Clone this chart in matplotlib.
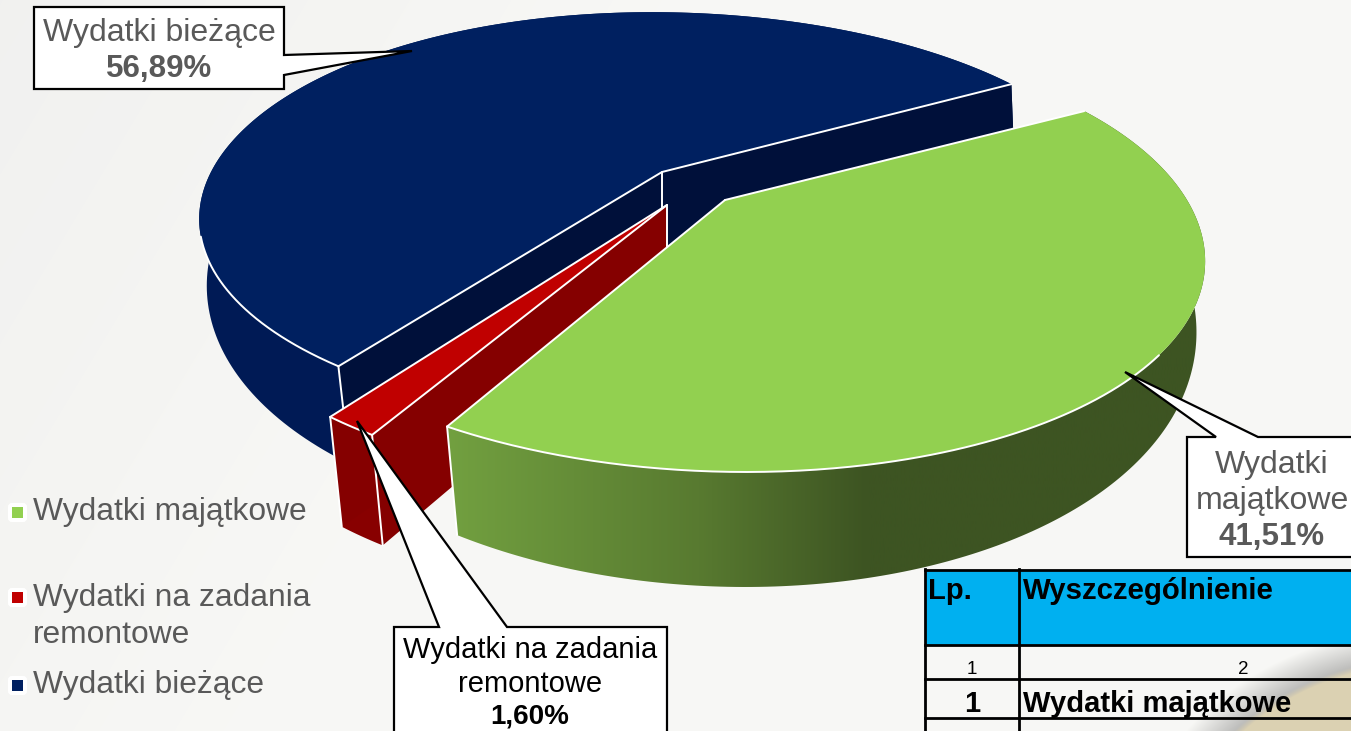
import numpy as np
import matplotlib
matplotlib.use('Agg')
import matplotlib.pyplot as plt
from matplotlib.colors import LinearSegmentedColormap
from matplotlib.patches import Polygon, Rectangle, FancyBboxPatch

plt.rcParams['font.family'] = ['Liberation Sans', 'DejaVu Sans']

# dane wykresu
kategorie = ['Wydatki majątkowe', 'Wydatki na zadania remontowe', 'Wydatki bieżące']
udzialy = [41.51, 1.60, 56.89]
etykiety_legendy = ['Wydatki majątkowe', 'Wydatki na zadania', 'remontowe', 'Wydatki bieżące']
etykiety_udzialow = ['41,51%', '1,60%', '56,89%']
naglowki_tabeli = ['Lp.', 'Wyszczególnienie']
numery_kolumn = ['1', '2']
wiersz_tabeli = ['1', 'Wydatki majątkowe']

# kolory: wierzch, sciana zewnetrzna, sciana wewnetrzna
kolor_gora = ['#92d050', '#c00000', '#002060']
kolor_bok = ['#3d5422', '#880000', '#001a55']
kolor_wew = ['#3d5422', '#850000', '#00103a']

# przesuniecie wycinkow i skala (rzut perspektywiczny)
srodki = [(725, 200), (667, 205), (662, 172)]
skala_x = [462, 447, 451]
skala_y = [201, 204, 195]
persp = [0.261, 0.261, 0.22]
skos = [21, -14, -10]
gleb0 = [65, 100, 65]
gleb1 = [50, 12, 40]
gleb_srodek = [65, 100, 85]
KAT_START = 30.0


def rzut(kat, r, s, dol=False):
    c = np.cos(np.radians(kat)) * r
    y = -np.sin(np.radians(kat)) * r
    cx, cy = srodki[s]
    w = 1 - persp[s] * y
    px = skala_x[s] * c / w + skos[s] * y ** 2
    py = skala_y[s] * y / w
    if dol:
        px = px * (0.99 - 0.03 * y)
        py = py + gleb0[s] + gleb1[s] * y
    return cx + px, cy + py


def luk(k1, k2, s, dol=False):
    kat = np.linspace(k1, k2, 200)
    x, y = rzut(kat, 1.0, s, dol)
    return np.column_stack([x, y])


fig = plt.figure(figsize=(13.51, 7.31), dpi=100)
ax = fig.add_axes([0, 0, 1, 1])
ax.set_xlim(0, 1351)
ax.set_ylim(731, 0)
ax.axis('off')

# tlo
yy, xx = np.mgrid[0:731, 0:1351]
jasnosc = np.clip((xx + yy * 0.6) / 700, 0, 1)[..., None]
tlo = np.array([0.945, 0.945, 0.94]) * (1 - jasnosc) + np.array([0.972, 0.972, 0.962]) * jasnosc
odl = np.hypot((xx - 1440) / 1.3, yy - 860)
cien = np.clip((235 - odl) / 45, 0, 1)[..., None]
tlo = tlo * (1 - cien * 0.35)
plama = np.clip((205 - odl) / 6, 0, 1)[..., None]
tlo = tlo * (1 - plama) + np.array([0.86, 0.82, 0.70]) * plama
ax.imshow(tlo, extent=(0, 1351, 731, 0), aspect='auto', zorder=0)

# zakresy katow z udzialow: zielony, czerwony, granatowy - zgodnie z ruchem wskazowek
granice = KAT_START - np.cumsum([0] + [u * 3.6 for u in udzialy])
BIALY = dict(color='white', lw=1.4, solid_capstyle='round')
cmap_ziel = LinearSegmentedColormap.from_list('z', [(0, '#72a040'), (0.33, '#587a30'), (0.55, '#3d5422'), (1, '#3d5422')])

for s in [2, 1, 0]:
    k1, k2 = granice[s], granice[s + 1]
    z = 2 + (2 - s) * 3
    srod = rzut(0.0, 0.0, s)
    srod_d = (srod[0], srod[1] + gleb_srodek[s])
    a1, a2 = rzut(k1, 1.0, s), rzut(k2, 1.0, s)
    d1, d2 = rzut(k1, 1.0, s, True), rzut(k2, 1.0, s, True)

    # sciana zewnetrzna
    sciana = np.vstack([luk(k1, k2, s), luk(k2, k1, s, True)])
    if s == 0:
        gr = np.linspace(0, 1, 256)[None, :]
        im = ax.imshow(gr, extent=(447, 1210, 731, 0), aspect='auto', cmap=cmap_ziel, zorder=z)
        p = Polygon(sciana, closed=True, fc='none', ec='none', zorder=z)
        ax.add_patch(p)
        im.set_clip_path(p)
    else:
        ax.add_patch(Polygon(sciana, closed=True, fc=kolor_bok[s], ec='none', zorder=z))

    # sciany wewnetrzne (zielona jest zaslonieta przez wierzch)
    if s != 0:
        for a, d in ((a1, d1), (a2, d2)):
            ax.add_patch(Polygon([srod, a, d, srod_d], closed=True, fc=kolor_wew[s], ec='none', zorder=z + 1))

    # wierzch
    wierzch = np.vstack([[srod], luk(k1, k2, s)])
    ax.add_patch(Polygon(wierzch, closed=True, fc=kolor_gora[s], ec='none', zorder=z + 2))

    # biale krawedzie
    ax.plot([srod[0], a1[0]], [srod[1], a1[1]], zorder=z + 2, **BIALY)
    ax.plot([srod[0], a2[0]], [srod[1], a2[1]], zorder=z + 2, **BIALY)
    if s != 0:
        ax.plot([srod[0], srod[0]], [srod[1], srod_d[1]], zorder=z + 1, **BIALY)
    if s != 0:
        ax.plot([a1[0], d1[0]], [a1[1], d1[1]], zorder=z + 2, **BIALY)
    if s != 2:
        ax.plot([a2[0], d2[0]], [a2[1], d2[1]], zorder=z + 2, **BIALY)
    if s == 0:
        obr = luk(-40, k2, s)
    elif s == 1:
        obr = luk(k1, k2, s)
    else:
        obr = luk(k1, -162, s)
    ax.plot(obr[:, 0], obr[:, 1], zorder=z + 2, **BIALY)

# legenda
pozycje_leg = [512, 597, 685]
kolory_leg = kolor_gora
for i, y in enumerate(pozycje_leg):
    ax.add_patch(FancyBboxPatch((9, y - 8), 17, 17, boxstyle='round,pad=0,rounding_size=3', fc='white', ec='white', lw=1.5, zorder=20))
    ax.add_patch(Rectangle((12, y - 5), 11, 11, fc=kolory_leg[i], ec='none', zorder=21))
ax.text(33, 512, etykiety_legendy[0], fontsize=22.9, color='#595959', va='center', zorder=21)
ax.text(33, 598, etykiety_legendy[1], fontsize=22.9, color='#595959', va='center', zorder=21)
ax.text(33, 635, etykiety_legendy[2], fontsize=22.9, color='#595959', va='center', zorder=21)
ax.text(33, 685, etykiety_legendy[3], fontsize=22.9, color='#595959', va='center', zorder=21)

# objasnienia
objasnienia = [
    [(34, 7), (284, 7), (284, 55), (412, 51), (284, 75), (284, 89), (34, 89)],
    [(1187, 437), (1216, 437), (1125, 372), (1258, 437), (1356, 437), (1356, 557), (1187, 557)],
    [(394, 627), (439, 627), (357, 421), (507, 627), (667, 627), (667, 740), (394, 740)],
]
for pkt in objasnienia:
    ax.add_patch(Polygon(pkt, closed=True, fc='white', ec='black', lw=1.6, joinstyle='miter', zorder=30))

ax.text(159, 33, 'Wydatki bieżące', fontsize=23, color='#595959', ha='center', va='center', zorder=31)
ax.text(159, 69, etykiety_udzialow[2], fontsize=22.5, fontweight='bold', color='#595959', ha='center', va='center', zorder=31)
ax.text(1272, 465, 'Wydatki', fontsize=23, color='#595959', ha='center', va='center', zorder=31)
ax.text(1272, 501, 'majątkowe', fontsize=23, color='#595959', ha='center', va='center', zorder=31)
ax.text(1272, 537, etykiety_udzialow[0], fontsize=22.5, fontweight='bold', color='#595959', ha='center', va='center', zorder=31)
ax.text(530, 650, 'Wydatki na zadania', fontsize=21, color='black', ha='center', va='center', zorder=31)
ax.text(530, 684, 'remontowe', fontsize=21, color='black', ha='center', va='center', zorder=31)
ax.text(530, 716, etykiety_udzialow[1], fontsize=20, fontweight='bold', color='black', ha='center', va='center', zorder=31)

# fragment tabeli
ax.add_patch(Rectangle((925, 570), 430, 75, fc='#00b0f0', ec='none', zorder=32))
for y in (570, 645, 679, 718):
    ax.plot([925, 1351], [y, y], color='black', lw=2, zorder=33)
for x in (925, 1019):
    ax.plot([x, x], [569, 731], color='black', lw=2, zorder=33)
ax.text(928, 591, naglowki_tabeli[0], fontsize=21, fontweight='bold', color='black', va='center', zorder=34)
ax.text(1023, 591, naglowki_tabeli[1], fontsize=21.2, fontweight='bold', color='black', va='center', zorder=34)
ax.text(972, 669, numery_kolumn[0], fontsize=13.5, color='black', ha='center', va='center', zorder=34)
ax.text(1243, 669, numery_kolumn[1], fontsize=13.5, color='black', ha='center', va='center', zorder=34)
ax.text(972, 704, wiersz_tabeli[0], fontsize=21, fontweight='bold', color='black', ha='center', va='center', zorder=34)
ax.text(1023, 704, wiersz_tabeli[1], fontsize=21, fontweight='bold', color='black', va='center', zorder=34)

ax.set_xlim(0, 1351)
ax.set_ylim(731, 0)
fig.savefig('out.png', dpi=100)
